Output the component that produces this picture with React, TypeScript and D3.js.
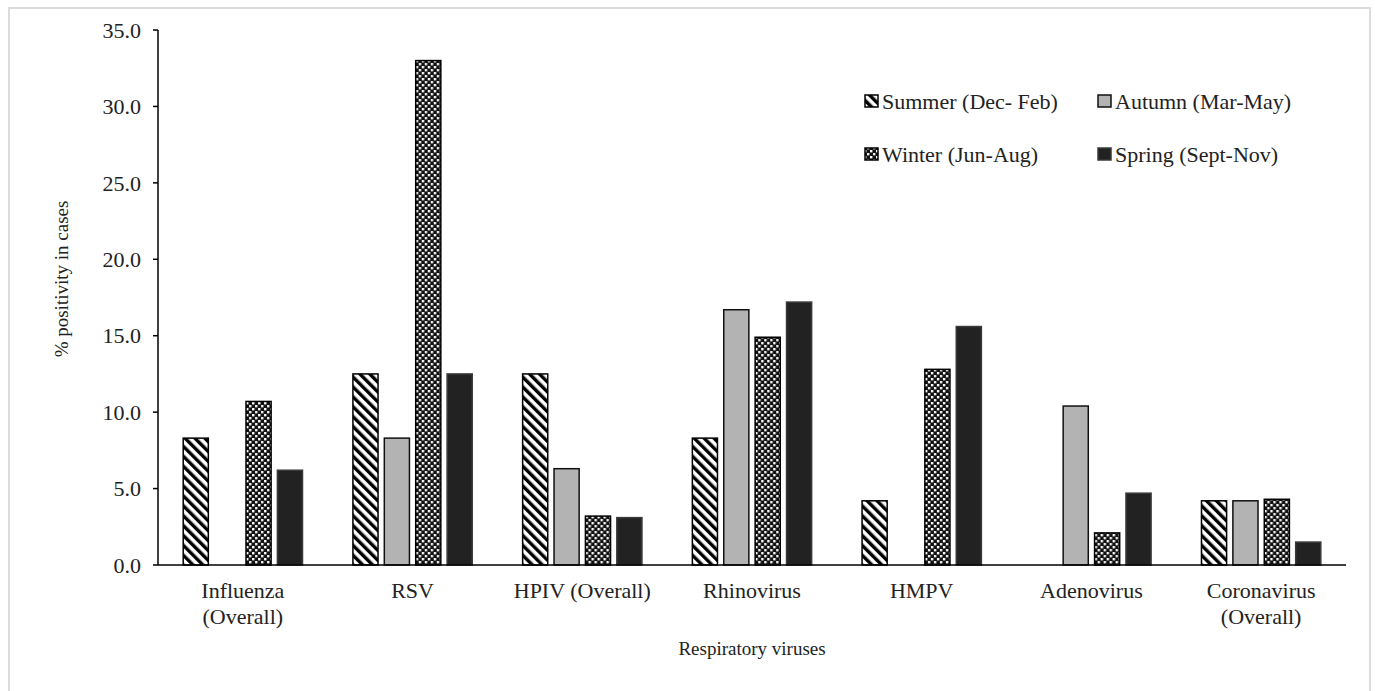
import React from "react";
import * as d3 from "d3";

const WIDTH = 1375;
const HEIGHT = 691;

const categories = [
  "Influenza (Overall)",
  "RSV",
  "HPIV (Overall)",
  "Rhinovirus",
  "HMPV",
  "Adenovirus",
  "Coronavirus (Overall)",
];
// how each category label wraps under the axis
const categoryLines = [
  ["Influenza", "(Overall)"],
  ["RSV"],
  ["HPIV (Overall)"],
  ["Rhinovirus"],
  ["HMPV"],
  ["Adenovirus"],
  ["Coronavirus", "(Overall)"],
];

const seasons = ["Summer (Dec- Feb)", "Autumn (Mar-May)", "Winter (Jun-Aug)", "Spring (Sept-Nov)"];

const summer = [8.3, 12.5, 12.5, 8.3, 4.2, 0, 4.2];
const autumn = [0, 8.3, 6.3, 16.7, 0, 10.4, 4.2];
const winter = [10.7, 33.0, 3.2, 14.9, 12.8, 2.1, 4.3];
const spring = [6.2, 12.5, 3.1, 17.2, 15.6, 4.7, 1.5];

const seriesValues = [summer, autumn, winter, spring];

const yTicks = [0, 5, 10, 15, 20, 25, 30, 35];

const fills = ["url(#stripes)", "#b3b3b3", "url(#confetti)", "#222222"];
const strokes = ["#000", "#111", "#000", "#3a3a3a"];

const margin = { left: 158, right: 1346, top: 30, bottom: 565 };
const FONT = "'Liberation Serif', 'Times New Roman', serif";

export default function App() {
  const x0 = d3
    .scaleBand<string>()
    .domain(categories)
    .range([margin.left, margin.right])
    .paddingInner(0.26)
    .paddingOuter(0.13);

  const x1 = d3
    .scaleBand<string>()
    .domain(seasons)
    .range([0, x0.bandwidth()])
    .paddingInner(0.2)
    .paddingOuter(0.1);

  const y = d3.scaleLinear().domain([0, 35]).range([margin.bottom, margin.top]);
  const fmt = d3.format(".1f");

  // legend layout: two columns, two rows
  const legendX = [865, 1098];
  const legendY = [101, 154];

  return (
    <svg
      width={WIDTH}
      height={HEIGHT}
      style={{ position: "absolute", left: 0, top: 0, background: "#fff" }}
      fontFamily={FONT}
    >
      <defs>
        <pattern id="stripes" width={7} height={7} patternUnits="userSpaceOnUse" patternTransform="rotate(-45)">
          <rect width={7} height={7} fill="#fff" />
          <rect width={3.4} height={7} fill="#000" />
        </pattern>
        <pattern id="confetti" width={6} height={6} patternUnits="userSpaceOnUse">
          <rect width={6} height={6} fill="#111" />
          <rect x={0} y={0} width={2.4} height={2.4} fill="#fff" />
          <rect x={3} y={3} width={2.4} height={2.4} fill="#f0f0f0" />
        </pattern>
      </defs>

      <rect width={WIDTH} height={HEIGHT} fill="#fff" />
      {/* light frame */}
      <path d={`M9,${HEIGHT} V8 H1370 V${HEIGHT}`} fill="none" stroke="#dcdcdc" strokeWidth={2} />

      {/* bars */}
      {categories.map((c, ci) => (
        <g key={c} transform={`translate(${x0(c)},0)`}>
          {seasons.map((s, si) => {
            const v = seriesValues[si][ci];
            if (!v) return null;
            return (
              <rect
                key={s}
                x={x1(s)}
                y={y(v)}
                width={x1.bandwidth()}
                height={y(0) - y(v)}
                fill={fills[si]}
                stroke={strokes[si]}
                strokeWidth={1.5}
              />
            );
          })}
        </g>
      ))}

      {/* y axis */}
      <line x1={margin.left} x2={margin.left} y1={y(35)} y2={y(0)} stroke="#000" strokeWidth={1.5} />
      {yTicks.map((t) => (
        <g key={t}>
          <line x1={margin.left - 5} x2={margin.left} y1={y(t)} y2={y(t)} stroke="#000" strokeWidth={1.5} />
          <text x={141} y={y(t)} dy="0.35em" textAnchor="end" fontSize={22} fill="#222">
            {fmt(t)}
          </text>
        </g>
      ))}

      {/* x axis */}
      <line x1={margin.left} x2={margin.right} y1={y(0)} y2={y(0)} stroke="#000" strokeWidth={1.5} />
      {categories.map((c, ci) => (
        <text key={c} x={x0(c)! + x0.bandwidth() / 2} textAnchor="middle" fontSize={22} fill="#222">
          {categoryLines[ci].map((line, li) => (
            <tspan key={li} x={x0(c)! + x0.bandwidth() / 2} y={598 + li * 26}>
              {line}
            </tspan>
          ))}
        </text>
      ))}

      {/* axis titles */}
      <text x={752} y={655} textAnchor="middle" fontSize={19} fill="#222">
        Respiratory viruses
      </text>
      <text transform={`translate(68,279) rotate(-90)`} textAnchor="middle" fontSize={19} fill="#222">
        % positivity in cases
      </text>

      {/* legend */}
      {seasons.map((s, si) => {
        const lx = legendX[si % 2];
        const ly = legendY[Math.floor(si / 2)];
        return (
          <g key={s}>
            <rect x={lx} y={ly - 6} width={13} height={12} fill={fills[si]} stroke={strokes[si]} strokeWidth={1.5} />
            <text x={lx + 17} y={ly} dy="0.35em" fontSize={22} fill="#222">
              {s}
            </text>
          </g>
        );
      })}
    </svg>
  );
}
